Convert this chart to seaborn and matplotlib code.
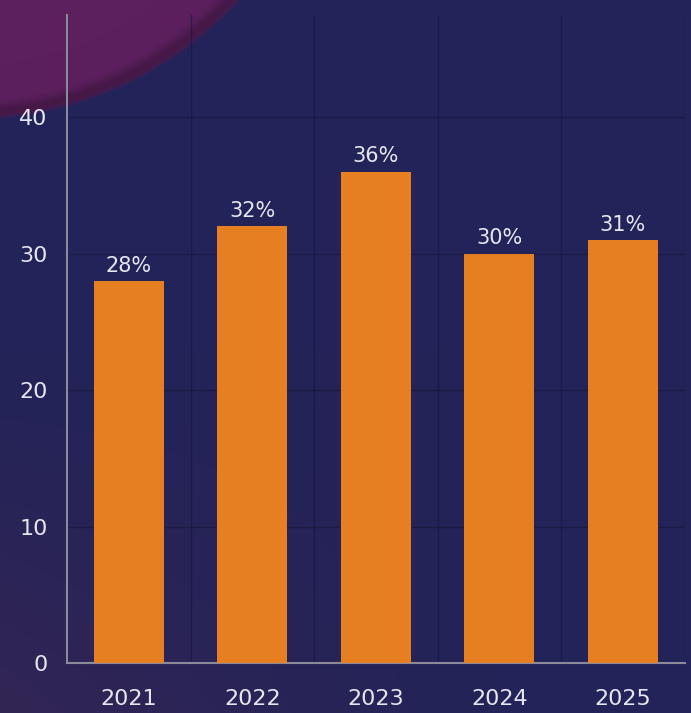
import numpy as np
import pandas as pd
import matplotlib.pyplot as plt
import seaborn as sns
from matplotlib.ticker import MultipleLocator

# Data
years = ["2021", "2022", "2023", "2024", "2025"]
values = [28, 32, 36, 30, 31]

df = pd.DataFrame({"year": years, "value": values})

sns.set_theme(style="white")
plt.rcParams["font.family"] = ["DejaVu Sans"]

W, H = 691, 713
fig = plt.figure(figsize=(W / 100, H / 100), dpi=100)

# Background: navy with a purple blob in the top-left corner
yy, xx = np.mgrid[0:H, 0:W]
navy = np.array([0x22, 0x23, 0x58]) / 255
purple = np.array([0x5c, 0x20, 0x5e]) / 255
low = np.array([0x36, 0x26, 0x54]) / 255
bg = np.ones((H, W, 3)) * navy
t = np.clip((yy - 350) / 360, 0, 1)[..., None] * np.clip(1 - xx / 500, 0, 1)[..., None]
bg = bg * (1 - t * 0.8) + low * t * 0.8
d = np.sqrt((xx + 30) ** 2 + (yy + 245) ** 2)
m = np.clip((365 - d) / 5, 0, 1)[..., None]
rim = np.exp(-((d - 357) / 8) ** 2)[..., None]
blob = purple * (1 - 0.25 * rim)
bg = bg * (1 - m) + blob * m
bgax = fig.add_axes([0, 0, 1, 1], zorder=-1)
bgax.imshow(np.clip(bg, 0, 1), aspect="auto")
bgax.axis("off")

ax = fig.add_axes([67 / W, 1 - 663 / H, (684.5 - 67) / W, (663 - 15) / H])
ax.set_facecolor("none")

sns.barplot(data=df, x="year", y="value", color="#E67E22", width=0.57,
            saturation=1, linewidth=0, ax=ax, zorder=3)

for i, v in enumerate(values):
    ax.text(i, v + 0.4, f"{v}%", ha="center", va="bottom",
            color="#e6e6ef", fontsize=15, zorder=4)

ax.set_xlim(-0.5, 4.5)
ax.set_ylim(0, 47.5)
ax.set_yticks([0, 10, 20, 30, 40])
ax.xaxis.set_minor_locator(MultipleLocator(1, offset=0.5))
ax.grid(True, which="major", axis="y", color="#15163a", linewidth=1, alpha=0.6)
ax.grid(True, which="minor", axis="x", color="#15163a", linewidth=1, alpha=0.6)
ax.tick_params(which="minor", length=0)

ax.set_xlabel("")
ax.set_ylabel("")
for s in ["top", "right"]:
    ax.spines[s].set_visible(False)
for s in ["left", "bottom"]:
    ax.spines[s].set_color("#8a8a9a")
    ax.spines[s].set_linewidth(1.5)
ax.tick_params(axis="both", which="major", colors="#8a8a9a", length=6,
               width=1.2, labelsize=16, labelcolor="#e6e6ef")
ax.tick_params(axis="x", pad=13)
ax.tick_params(axis="y", pad=8)

plt.savefig("out.png", dpi=100)
